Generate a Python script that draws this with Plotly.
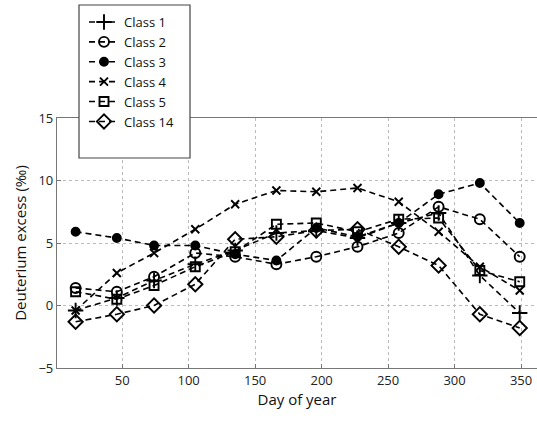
import plotly.graph_objects as go

days = [15, 46, 74, 105, 135, 166, 196, 227, 258, 288, 319, 349]
class1 = [-0.4, 0.6, 2.0, 3.3, 4.4, 5.8, 6.0, 5.4, 6.6, 7.4, 2.4, -0.6]
class2 = [1.4, 1.1, 2.3, 4.2, 3.9, 3.3, 3.9, 4.7, 5.8, 7.9, 6.9, 3.9]
class3 = [5.9, 5.4, 4.8, 4.8, 4.1, 3.6, 6.2, 5.5, 6.6, 8.9, 9.8, 6.6]
class4 = [-0.4, 2.6, 4.2, 6.1, 8.1, 9.2, 9.1, 9.4, 8.3, 5.9, 3.1, 1.2]
class5 = [1.1, 0.5, 1.6, 3.1, 4.3, 6.5, 6.6, 5.9, 6.9, 7.0, 2.8, 1.9]
class14 = [-1.3, -0.7, 0.0, 1.7, 5.3, 5.5, 6.0, 6.1, 4.7, 3.2, -0.7, -1.8]

series = [
    ("Class 1", class1, "cross-thin-open", 11),
    ("Class 2", class2, "circle-open", 10),
    ("Class 3", class3, "circle", 8),
    ("Class 4", class4, "x-thin-open", 8),
    ("Class 5", class5, "square-open", 9),
    ("Class 14", class14, "diamond-open", 11),
]

fig = go.Figure()
for name, vals, sym, size in series:
    fig.add_trace(go.Scatter(
        x=days, y=vals, name=name, mode="lines+markers",
        line=dict(color="black", width=1.6, dash="6px,4px"),
        marker=dict(symbol=sym, size=size, color="black",
                    line=dict(color="black", width=1.9)),
    ))

FONT = "Open Sans, Noto Sans, sans-serif"
axis_font = dict(family=FONT, size=13, color="#222")
fig.update_layout(
    width=537, height=422,
    margin=dict(l=57, r=0, t=118, b=54, autoexpand=False),
    paper_bgcolor="white", plot_bgcolor="white",
    font=axis_font,
    showlegend=True,
    legend=dict(
        x=(84 - 57) / 480, y=(368 - 7) / 250, xanchor="left", yanchor="top",
        bgcolor="rgba(0,0,0,0)", borderwidth=0,
        font=dict(family=FONT, size=13, color="#111"),
        itemwidth=30, tracegroupgap=0,
    ),
    shapes=[dict(type="rect", xref="paper", yref="paper",
                 x0=(79 - 57) / 480, x1=(190 - 57) / 480,
                 y0=(368 - 158) / 250, y1=(368 - 5) / 250,
                 fillcolor="white", line=dict(color="#444", width=1.2),
                 layer="above")],
)
fig.update_xaxes(
    range=[1, 362], tickmode="array", tickvals=[50, 100, 150, 200, 250, 300, 350],
    showgrid=True, gridcolor="#bbb", griddash="dot", gridwidth=1,
    showline=True, linecolor="#777", linewidth=1.2, mirror=True,
    ticks="inside", ticklen=4, tickcolor="#777",
    zeroline=False, automargin=False,
    title=dict(text="Day of year", font=dict(size=15, family=FONT, color="#111"), standoff=4),
    tickfont=axis_font,
)
fig.update_yaxes(
    range=[-5, 15], tickmode="array", tickvals=[-5, 0, 5, 10, 15],
    showgrid=True, gridcolor="#bbb", griddash="dot", gridwidth=1,
    showline=True, linecolor="#777", linewidth=1.2, mirror=True,
    ticks="inside", ticklen=4, tickcolor="#777",
    zeroline=False, automargin=False,
    title=dict(text="Deuterium excess (‰)", font=dict(size=15, family=FONT, color="#111"), standoff=8),
    tickfont=axis_font,
)
fig.write_html("out.html", config={"displayModeBar": False},
               post_script="document.body.style.margin='0';")
